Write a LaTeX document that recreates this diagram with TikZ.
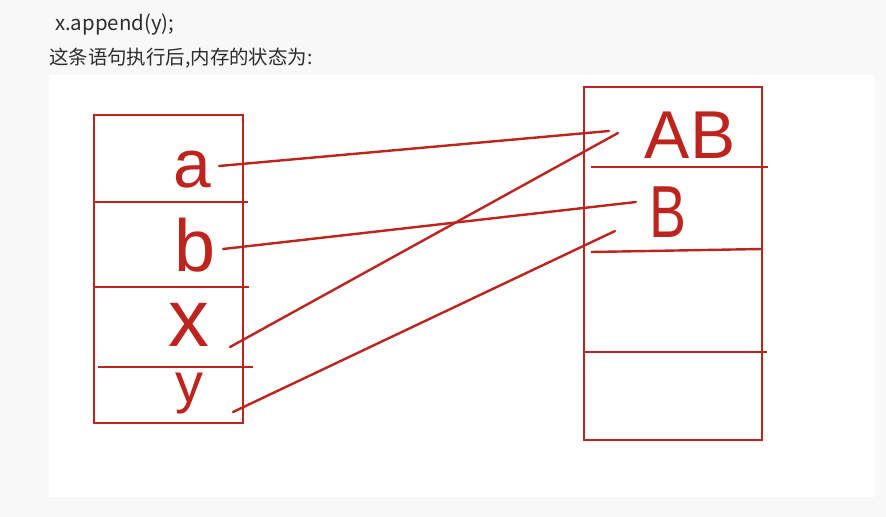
\documentclass[tikz,border=0pt]{standalone}
\usepackage{fontspec}
\setmainfont{Liberation Sans}
\newfontfamily\cjk{Noto Sans CJK SC}
\definecolor{ink}{RGB}{190,36,30}
\definecolor{pagebg}{RGB}{248,248,248}
\definecolor{txtcol}{RGB}{45,45,45}
\tikzset{
  cell/.style={draw=ink, line width=2.4bp},
  wire/.style={draw=ink, line width=2.4bp, line cap=round},
  hand/.style={text=ink, inner sep=0pt, font=\fontsize{#1}{#1}\selectfont},
  caption/.style={anchor=base west, inner sep=0pt, text=txtcol, font=\cjk\fontsize{19.5}{22}\selectfont},
}
\begin{document}
\begin{tikzpicture}[x=1bp,y=-1bp]
\useasboundingbox (0,0) rectangle (886,517);
\fill[pagebg] (0,0) rectangle (886,517);
\fill[white] (49,75) rectangle (875,497);
%%
  % Node: code line and caption
  \node[caption,font=\cjk\fontsize{20.5}{22}\selectfont] (code) at (55,31) {x.append(y);};
  \node[caption] (cap) at (49,65) {这条语句执行后,内存的状态为:};
  % Box: x (left)
  \draw[cell] (94,115) rectangle (243,423);
  \draw[cell] (94,202) -- (248,202);
  \draw[cell] (94,287) -- (249,287);
  \draw[cell] (98,367) -- (253,367);
  % Box: heap (right)
  \draw[cell] (584,87) rectangle (762,440);
  \draw[cell] (591,167) -- (768,167);
  \draw[cell] (591,252) -- (762,249);
  \draw[cell] (584,352) -- (767,352);
  % Node: a
  \node[hand=68] (a) at (192,170) {a};
  % Node: b
  \node[hand=74] (b) at (195,245) {b};
  % Node: x
  \node[hand=82] (x) at (189,325) {x};
  % Node: y
  \node[hand=56] (y) at (189,394) {y};
  % Node: AB
  \node[hand=68] (AB) at (690,135) {AB};
  % Node: B
  \node[hand=74,xscale=0.75] (B) at (668,212) {B};
  % Ends of the references
  \coordinate (a-ref) at (219,166);
  \coordinate (b-ref) at (223,249);
  \coordinate (x-ref) at (230,347);
  \coordinate (y-ref) at (233,412);
  \coordinate (AB-in1) at (609,131);
  \coordinate (AB-in2) at (618,133);
  \coordinate (B-in1) at (636,202);
  \coordinate (B-in2) at (615,231);
  % Edge: a -> AB
  \draw[wire] (a-ref) -- (AB-in1);
  % Edge: b -> B
  \draw[wire] (b-ref) -- (B-in1);
  % Edge: x -> AB
  \draw[wire] (x-ref) -- (AB-in2);
  % Edge: y -> B
  \draw[wire] (y-ref) -- (B-in2);
%
\end{tikzpicture}
\end{document}
